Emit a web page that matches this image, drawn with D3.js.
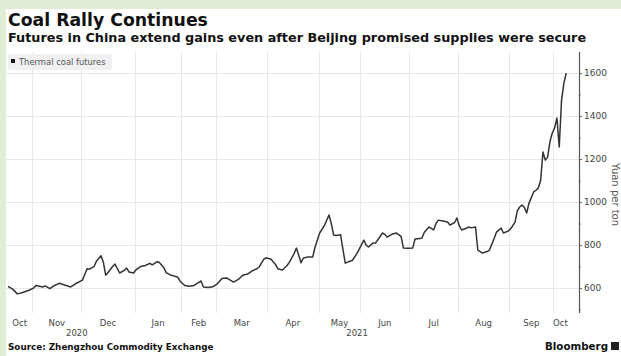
<!DOCTYPE html>
<html>
<head>
<meta charset="utf-8">
<script src="https://cdn.jsdelivr.net/npm/d3@7"></script>
<style>
  body { margin: 0; background: #e1ecd6; }
  svg { display: block; }
</style>
</head>
<body>
<svg id="chart" width="621" height="356"></svg>
<script>
// month labels and the number of trading sessions in each month (x axis is session based)
const months = ["Oct", "Nov", "Dec", "Jan", "Feb", "Mar", "Apr", "May", "Jun", "Jul", "Aug", "Sep", "Oct"]
const sessions = [11, 21, 23, 20, 15, 22, 22, 18, 21, 21, 22, 19, 6]
const years = [{label: "2020", from: 0, to: 3}, {label: "2021", from: 3, to: 13}]

// thermal coal futures, [session number, yuan per ton]
const coal = [
  [0,608],[2,595],[4,573],[6,578],[9,590],[11,600],[12,612],[15,605],[16,610],[18,597],
  [20,612],[22,622],[25,612],[27,605],[29,620],[32,637],[34,690],[35,688],[37,700],[38,725],
  [40,750],[41,720],[42,660],[43,672],[45,700],[46,712],[47,690],[48,670],[50,682],[51,693],
  [52,675],[54,670],[55,685],[57,700],[59,705],[61,715],[62,708],[64,722],[65,720],[67,695],
  [68,672],[70,660],[71,658],[73,650],[74,632],[76,612],[78,608],[80,612],[83,633],[84,605],
  [86,603],[88,606],[90,620],[92,645],[94,647],[95,640],[97,628],[99,640],[101,660],[103,665],
  [105,680],[107,690],[108,698],[110,735],[111,740],[113,735],[115,710],[116,690],[118,684],[120,705],
  [121,721],[123,760],[124,786],[126,718],[127,740],[129,745],[131,744],[132,790],[134,856],[136,890],
  [138,940],[139,900],[140,847],[141,845],[143,848],[144,780],[145,716],[147,725],[148,728],[150,760],
  [153,823],[154,800],[155,791],[157,810],[158,809],[160,840],[161,856],[162,850],[163,837],[165,850],
  [167,856],[169,840],[170,786],[172,785],[174,786],[175,828],[177,830],[178,833],[179,860],[181,884],
  [182,878],[183,870],[184,900],[185,916],[187,912],[189,907],[190,893],[192,905],[193,926],[194,890],
  [195,870],[197,878],[198,884],[199,880],[201,884],[202,777],[204,763],[206,770],[207,777],[209,830],
  [210,860],[212,879],[213,856],[215,865],[216,874],[217,890],[218,907],[219,960],[220,977],[221,986],
  [222,975],[223,949],[224,995],[226,1047],[227,1055],[228,1065],[229,1100],[230,1233],[231,1195],[232,1209],
  [233,1280],[234,1321],[235,1344],[236,1391],[237,1256],[238,1474],[239,1553],[240,1600]
]
const yTicks = [600, 800, 1000, 1200, 1400, 1600]

const svg = d3.select("#chart")
const W = 621, H = 356

// white panel inside the green frame
svg.append("rect").attr("x", 6).attr("y", 9).attr("width", W - 6).attr("height", H - 9).attr("fill", "#fff")

const font = "DejaVu Sans, sans-serif"

svg.append("text").attr("x", 8).attr("y", 26)
  .attr("font-family", font).attr("font-weight", "bold").attr("font-size", 17.3)
  .attr("fill", "#111").text("Coal Rally Continues")
svg.append("text").attr("x", 8).attr("y", 42)
  .attr("font-family", font).attr("font-weight", "bold").attr("font-size", 12.8)
  .attr("fill", "#111").text("Futures in China extend gains even after Beijing promised supplies were secure")

// month boundaries from cumulative session counts
let starts = [0]
sessions.forEach((s, i) => starts.push(starts[i] + s))

const plotTop = 52, plotBottom = 313, plotLeft = 8, plotRight = 579
const x = d3.scaleLinear().domain([0, 245.5]).range([plotLeft, plotRight])
const y = d3.scaleLinear().domain([484, 1698]).range([plotBottom, plotTop])

// grid
const grid = svg.append("g").attr("stroke", "#e8e8e8").attr("stroke-width", 1)
grid.selectAll(".hg").data(yTicks).enter().append("line")
  .attr("x1", 6).attr("x2", plotRight)
  .attr("y1", d => Math.round(y(d)) + 0.5).attr("y2", d => Math.round(y(d)) + 0.5)
grid.selectAll(".vg").data(starts.slice(1, -1)).enter().append("line")
  .attr("x1", d => Math.round(x(d - 0.5)) + 0.5).attr("x2", d => Math.round(x(d - 0.5)) + 0.5)
  .attr("y1", plotTop).attr("y2", plotBottom)

// legend
svg.append("rect").attr("x", 8).attr("y", 54).attr("width", 104).attr("height", 16).attr("fill", "#f0f0f0")
svg.append("rect").attr("x", 11).attr("y", 59).attr("width", 4).attr("height", 4).attr("fill", "#111")
svg.append("text").attr("x", 19).attr("y", 64.5)
  .attr("font-family", font).attr("font-size", 8.4).attr("fill", "#555").text("Thermal coal futures")

// line
const line = d3.line().x(d => x(d[0])).y(d => y(d[1]))
svg.append("path").datum(coal)
  .attr("d", line).attr("fill", "none")
  .attr("stroke", "#333").attr("stroke-width", 1.5).attr("stroke-linejoin", "round")

// right axis
const yAxis = d3.axisRight(y).tickValues(yTicks).tickSize(3).tickPadding(2).tickFormat(d3.format("d"))
const ay = svg.append("g").attr("transform", `translate(${plotRight},0)`).call(yAxis)
ay.select(".domain").remove()
ay.selectAll("text").attr("font-family", font).attr("font-size", 9).attr("fill", "#444")
ay.selectAll("line").attr("stroke", "#555")
svg.append("g").attr("transform", `translate(${plotRight},0)`)
  .call(d3.axisRight(y).tickValues(d3.range(500, 1700, 100)).tickSize(2).tickFormat(""))
  .call(g => g.select(".domain").remove())
  .selectAll("line").attr("stroke", "#888")
svg.append("line").attr("x1", plotRight + 0.5).attr("x2", plotRight + 0.5)
  .attr("y1", plotTop).attr("y2", plotBottom).attr("stroke", "#555").attr("stroke-width", 1.2)

svg.append("text")
  .attr("transform", `translate(612,${(plotTop + plotBottom) / 2 + 12}) rotate(90)`)
  .attr("text-anchor", "middle").attr("font-family", font).attr("font-size", 10)
  .attr("fill", "#555").text("Yuan per ton")

// month labels centred in each month
svg.selectAll(".ml").data(months).enter().append("text")
  .attr("x", (d, i) => x((starts[i] + starts[i + 1] - 1) / 2))
  .attr("y", 326).attr("text-anchor", "middle")
  .attr("font-family", font).attr("font-size", 8.5).attr("fill", "#444")
  .text(d => d)
svg.selectAll(".yl").data(years).enter().append("text")
  .attr("x", d => x((starts[d.from] + starts[d.to] - 1) / 2) + 6)
  .attr("y", 336).attr("text-anchor", "middle")
  .attr("font-family", font).attr("font-size", 8.5).attr("fill", "#444")
  .text(d => d.label)

// footer
svg.append("text").attr("x", 8).attr("y", 350)
  .attr("font-family", font).attr("font-weight", "bold").attr("font-size", 8.8)
  .attr("fill", "#111").text("Source: Zhengzhou Commodity Exchange")
svg.append("text").attr("x", 608).attr("y", 350).attr("text-anchor", "end")
  .attr("font-family", font).attr("font-weight", "bold").attr("font-size", 10.3)
  .attr("fill", "#111").text("Bloomberg")
svg.append("rect").attr("x", 611).attr("y", 342).attr("width", 8).attr("height", 8).attr("fill", "#222")
</script>
</body>
</html>
